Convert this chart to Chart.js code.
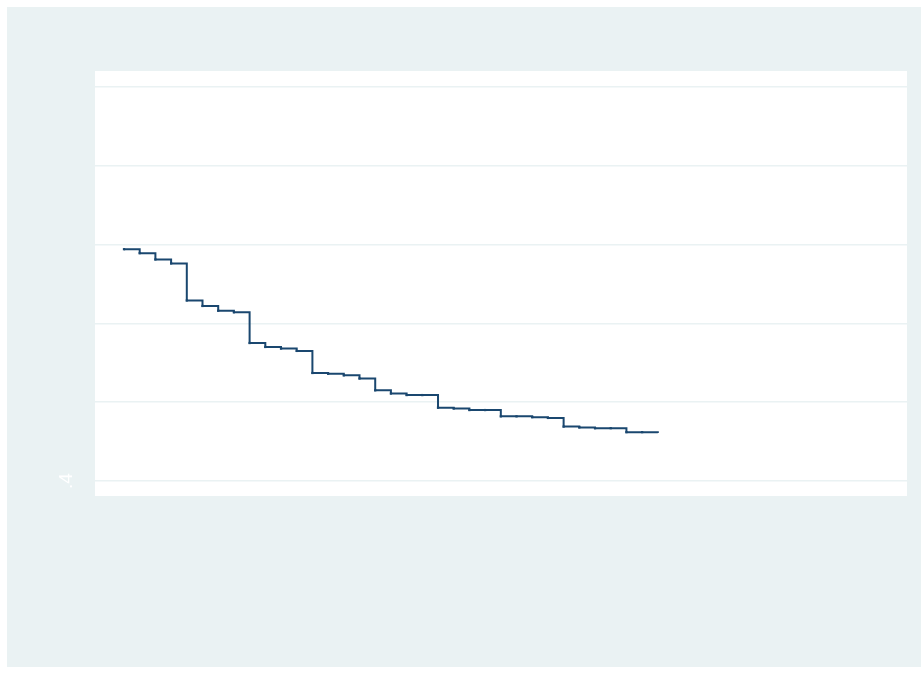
<!DOCTYPE html>
<html>
<head>
<meta charset="utf-8">
<script src="https://cdn.jsdelivr.net/npm/chart.js@4"></script>
<style>
  html, body { margin: 0; padding: 0; background: #fff; }
  #wrap { width: 921px; height: 674px; }
</style>
</head>
<body>
<div id="wrap"><canvas id="myChart" width="921" height="674"></canvas></div>
<script>
// analysis time points
var times = [1, 2, 3, 4, 5, 6, 7, 8, 9, 10, 11, 12, 13, 14, 15, 16, 17, 18,
  19, 20, 21, 22, 23, 24, 25, 26, 27, 28, 29, 30, 31, 32, 33, 34, 35];
// survivor function estimate at each time
var survival = [0.694, 0.689, 0.681, 0.676, 0.629, 0.622, 0.616, 0.614, 0.575,
  0.570, 0.568, 0.565, 0.537, 0.536, 0.534, 0.530, 0.515, 0.511, 0.509, 0.509,
  0.493, 0.492, 0.490, 0.490, 0.482, 0.482, 0.481, 0.480, 0.469, 0.468, 0.467,
  0.467, 0.462, 0.462, 0.461];
var yTicks = [0.4, 0.5, 0.6, 0.7, 0.8, 0.9];
var yLabels = ['.4'];

var bg = '#EAF2F3';
var navy = '#1a476f';

var points = times.map(function (t, i) { return { x: t, y: survival[i] }; });
var radii = times.map(function (t, i) { return i === times.length - 1 ? 0 : 1.6; });

var backdrop = {
  id: 'backdrop',
  beforeDraw: function (chart) {
    var c = chart.ctx, a = chart.chartArea;
    c.save();
    c.fillStyle = '#ffffff';
    c.fillRect(0, 0, chart.width, chart.height);
    c.fillStyle = bg;
    c.fillRect(7, 7, chart.width - 7, 660);
    c.fillStyle = '#ffffff';
    c.fillRect(a.left, a.top, a.right - a.left, a.bottom - a.top);
    c.restore();
  },
  afterDraw: function (chart) {
    var c = chart.ctx, ys = chart.scales.y;
    c.save();
    c.fillStyle = '#ffffff';
    c.font = '19px "Liberation Sans", Arial, sans-serif';
    c.textAlign = 'center';
    c.textBaseline = 'middle';
    var py = ys.getPixelForValue(0.4);
    c.translate(67, py);
    c.rotate(-Math.PI / 2);
    c.fillText(yLabels[0], 0, 0);
    c.restore();
  }
};

var ctx = document.getElementById('myChart').getContext('2d');
var myChart = new Chart(ctx, {
  type: 'line',
  data: {
    datasets: [{
      label: 'Survivor function',
      data: points,
      stepped: true,
      borderColor: navy,
      borderWidth: 2,
      backgroundColor: navy,
      pointStyle: 'rect',
      pointRadius: radii,
      pointBorderWidth: 0,
      fill: false
    }]
  },
  options: {
    responsive: false,
    animation: false,
    layout: { padding: { left: 95, right: 14, top: 71, bottom: 178 } },
    plugins: {
      legend: { display: false },
      tooltip: { enabled: false },
      title: { display: false }
    },
    scales: {
      x: {
        type: 'linear',
        min: -0.847,
        max: 50.87,
        display: false
      },
      y: {
        type: 'linear',
        min: 0.381,
        max: 0.920,
        afterBuildTicks: function (axis) {
          axis.ticks = yTicks.map(function (v) { return { value: v }; });
        },
        ticks: { display: false },
        border: { display: false },
        grid: { color: bg, lineWidth: 1.6, drawTicks: false }
      }
    }
  },
  plugins: [backdrop]
});
</script>
</body>
</html>
